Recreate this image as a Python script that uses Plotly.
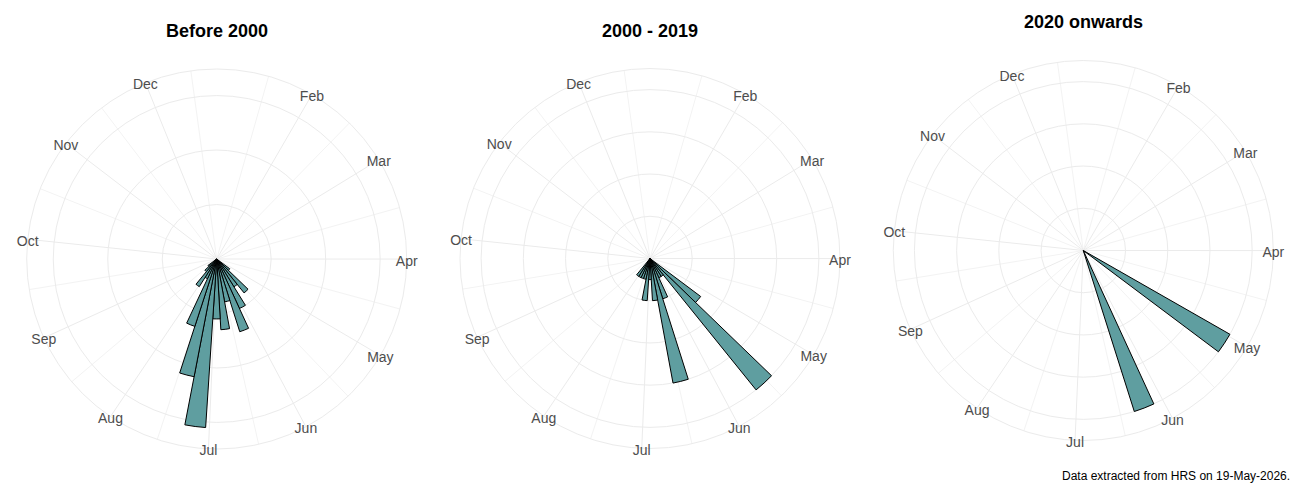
import plotly.graph_objects as go

# ---------------- data ----------------
months = ["Feb", "Mar", "Apr", "May", "Jun", "Jul", "Aug", "Sep", "Oct", "Nov", "Dec"]
month_start_day = [32, 60, 91, 121, 152, 182, 213, 244, 274, 305, 335]

titles = ["Before 2000", "2000 - 2019", "2020 onwards"]

weeks_before_2000 = [19, 20, 21, 22, 23, 24, 25, 26, 27, 28, 29, 30, 31, 32, 33]
counts_before_2000 = [3, 8, 6, 10, 14, 8, 13, 11, 31, 22, 13, 4, 6, 3, 2]

weeks_2000_2019 = [19, 20, 21, 22, 23, 24, 25, 26, 27, 28, 29, 30, 31]
counts_2000_2019 = [3, 8, 1, 1, 2, 6, 2, 1, 2, 1, 1, 1, 1]

weeks_2020_on = [18, 23]
counts_2020_on = [1, 1]

radial_breaks_before = [10, 20, 30]
radial_breaks_2000_2019 = [2, 4, 6, 8]
radial_breaks_2020_on = [0.25, 0.5, 0.75, 1.0]

caption = "Data extracted from HRS on 19-May-2026."

# ---------------- scales ----------------
DAY_MIN, DAY_SPAN = 2.4, 354.3


def day_to_theta(d):
    return (d - DAY_MIN) * 360.0 / DAY_SPAN


def week_center_day(w):
    return 7 * w - 2.25


BAR_WIDTH = 7 * 360.0 / DAY_SPAN
month_theta = [day_to_theta(d) for d in month_start_day]

# ggplot-style minor breaks (midpoints, extended by first gap)
bd = month_start_day[1] - month_start_day[0]
ext = [month_start_day[0] - bd] + month_start_day + [month_start_day[-1] + bd]
minor_days = [(a + b) / 2 for a, b in zip(ext[:-1], ext[1:])]
minor_theta = [day_to_theta(d) for d in minor_days if 0 <= day_to_theta(d) < 360]

FONT = "Liberation Sans, Arial, sans-serif"
GRID = "#EBEBEB"
GRID_MINOR = "#F3F3F3"
FILL = "#5F9EA0"
CLEAR = "rgba(0,0,0,0)"

panels = [
    (weeks_before_2000, counts_before_2000, radial_breaks_before),
    (weeks_2000_2019, counts_2000_2019, radial_breaks_2000_2019),
    (weeks_2020_on, counts_2020_on, radial_breaks_2020_on),
]

domains = [
    dict(x=[0.02054, 0.31285], y=[0.102, 0.862]),
    dict(x=[0.35385, 0.64615], y=[0.103, 0.863]),
    dict(x=[0.68715, 0.97946], y=[0.119, 0.879]),
]
LABEL_DROP = 0.006  # ggplot's axis-text margin pushes theta labels slightly down
title_pos = [(0.1667, 0.938), (0.5, 0.938), (0.8333, 0.957)]

fig = go.Figure()
layout_polars = {}


def angular(**kw):
    base = dict(rotation=90, direction="clockwise", thetaunit="degrees", ticks="",
                showticklabels=False)
    base.update(kw)
    return base


hidden_radial = lambda rmax: dict(range=[0, rmax], showgrid=False, showline=False,
                                  showticklabels=False, ticks="")

n = len(panels)
# 1) base layer: minor spokes
for i, (weeks, counts, breaks) in enumerate(panels):
    sp = "polar" if i == 0 else f"polar{i + 1}"
    rmax = max(counts) * 0.45 / 0.4
    fig.add_trace(go.Scatterpolar(r=[0], theta=[0], mode="markers",
                                  marker=dict(opacity=0), hoverinfo="skip",
                                  showlegend=False, subplot=sp))
    layout_polars[sp] = dict(
        domain=domains[i], bgcolor="white",
        angularaxis=angular(tickmode="array", tickvals=minor_theta,
                            gridcolor=GRID_MINOR, gridwidth=1, showline=False),
        radialaxis=hidden_radial(rmax),
    )

# 2) main layer: major grid + bars
for i, (weeks, counts, breaks) in enumerate(panels):
    sp = f"polar{n + i + 1}"
    rmax = max(counts) * 0.45 / 0.4
    fig.add_trace(go.Barpolar(
        r=counts,
        theta=[day_to_theta(week_center_day(w)) for w in weeks],
        width=[BAR_WIDTH] * len(weeks),
        marker=dict(color=FILL, line=dict(color="black", width=1)),
        hoverinfo="r+theta", showlegend=False, subplot=sp,
    ))
    layout_polars[sp] = dict(
        domain=domains[i], bgcolor=CLEAR,
        angularaxis=angular(tickmode="array", tickvals=month_theta, ticktext=months,
                            layer="below traces", gridcolor=GRID, gridwidth=1,
                            showline=True, linecolor=GRID, linewidth=1),
        radialaxis=dict(range=[0, rmax], tickmode="array", tickvals=breaks,
                        showticklabels=False, ticks="", showline=False,
                        layer="below traces", gridcolor=GRID, gridwidth=1),
    )

# 3) label layer: month names centred on the outer ring
for i, (weeks, counts, breaks) in enumerate(panels):
    sp = f"polar{2 * n + i + 1}"
    rmax = max(counts) * 0.45 / 0.4
    fig.add_trace(go.Scatterpolar(
        r=[rmax] * len(months), theta=month_theta, mode="text", text=months,
        textposition="middle center",
        textfont=dict(family=FONT, size=14, color="#4D4D4D"),
        cliponaxis=False, hoverinfo="skip", showlegend=False, subplot=sp,
    ))
    d = domains[i]
    layout_polars[sp] = dict(
        domain=dict(x=d["x"], y=[d["y"][0] - LABEL_DROP, d["y"][1] - LABEL_DROP]),
        bgcolor=CLEAR,
        angularaxis=angular(showgrid=False, showline=False),
        radialaxis=hidden_radial(rmax),
    )

annotations = []
for (x, y), t in zip(title_pos, titles):
    annotations.append(dict(text=f"<b>{t}</b>", x=x, y=y, xref="paper", yref="paper",
                            xanchor="center", yanchor="middle", showarrow=False,
                            font=dict(family=FONT, size=18, color="black")))
annotations.append(dict(text=caption, x=0.9938, y=0.048, xref="paper", yref="paper",
                        xanchor="right", yanchor="middle", showarrow=False,
                        font=dict(family=FONT, size=12, color="black")))

fig.update_layout(
    width=1300, height=500,
    margin=dict(l=0, r=0, t=0, b=0),
    paper_bgcolor="white",
    showlegend=False,
    annotations=annotations,
    **layout_polars,
)

fig.write_html("out.html")
